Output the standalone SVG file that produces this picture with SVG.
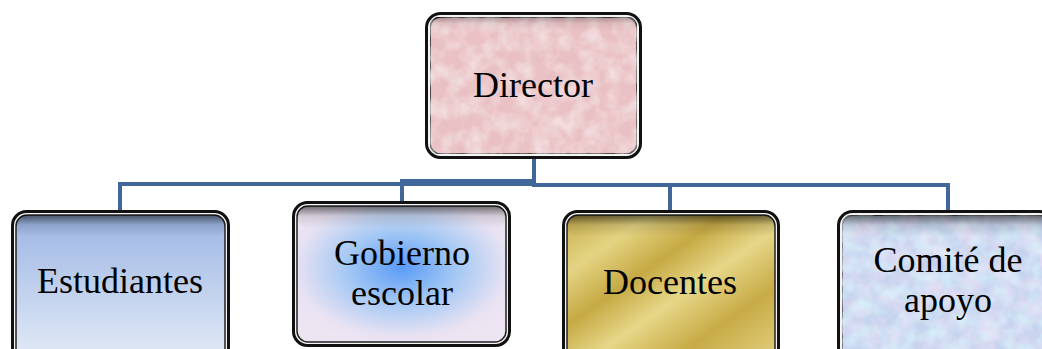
<svg xmlns="http://www.w3.org/2000/svg" width="1042" height="349" viewBox="0 0 1042 349">
<style>
.outer{fill:#f4f4f4;stroke:#111;stroke-width:3}
.inner{stroke:#222;stroke-width:1.5}
.shade{fill:url(#topShade)}
.lbl{font-family:"Liberation Serif","DejaVu Serif",serif;font-size:36px;fill:#000;text-anchor:middle}
.conn{fill:none;stroke:#41679a;stroke-width:4;stroke-linejoin:miter}
</style>
<defs>
<linearGradient id="topShade" x1="0" y1="0" x2="0" y2="1">
<stop offset="0" stop-color="#000" stop-opacity="0.55"/>
<stop offset="0.45" stop-color="#000" stop-opacity="0.12"/>
<stop offset="1" stop-color="#000" stop-opacity="0"/>
</linearGradient>
<linearGradient id="gEst" x1="0" y1="0" x2="0" y2="1">
<stop offset="0" stop-color="#9db6e4"/>
<stop offset="1" stop-color="#e2eaf6"/>
</linearGradient>
<radialGradient id="gGob" cx="0.5" cy="0.45" r="0.6">
<stop offset="0" stop-color="#5a9bf6"/>
<stop offset="0.45" stop-color="#a6c9f4"/>
<stop offset="0.85" stop-color="#e8e2f3"/>
<stop offset="1" stop-color="#eee5f2"/>
</radialGradient>
<linearGradient id="gDoc" x1="0" y1="0" x2="1" y2="1">
<stop offset="0" stop-color="#c9ae4d"/>
<stop offset="0.2" stop-color="#e4d483"/>
<stop offset="0.38" stop-color="#c6a944"/>
<stop offset="0.55" stop-color="#e6d788"/>
<stop offset="0.75" stop-color="#c8ab47"/>
<stop offset="1" stop-color="#e2d07e"/>
</linearGradient>
<filter id="pinkTex" x="0" y="0" width="1" height="1">
<feTurbulence type="fractalNoise" baseFrequency="0.06" numOctaves="3" seed="4" result="n"/>
<feColorMatrix in="n" type="matrix" values="0 0 0 0 1  0 0 0 0 1  0 0 0 0 1  0.9 0 0 0 -0.3" result="w"/>
<feComposite in="w" in2="SourceAlpha" operator="in" result="wc"/>
<feMerge><feMergeNode in="SourceGraphic"/><feMergeNode in="wc"/></feMerge>
</filter>
<filter id="pastelTex" x="0" y="0" width="1" height="1">
<feTurbulence type="fractalNoise" baseFrequency="0.05" numOctaves="3" seed="7" result="n"/>
<feColorMatrix in="n" type="matrix" values="0 0 0 0 0.92  0 0 0 0 0.78  0 0 0 0 0.95  1.4 0 0 0 -0.5" result="p"/>
<feTurbulence type="fractalNoise" baseFrequency="0.07" numOctaves="2" seed="11" result="n2"/>
<feColorMatrix in="n2" type="matrix" values="0 0 0 0 0.70  0 0 0 0 0.92  0 0 0 0 0.98  1.4 0 0 0 -0.5" result="c"/>
<feMerge result="m"><feMergeNode in="p"/><feMergeNode in="c"/></feMerge>
<feComposite in="m" in2="SourceAlpha" operator="in" result="mc"/>
<feMerge><feMergeNode in="SourceGraphic"/><feMergeNode in="mc"/></feMerge>
</filter>
</defs>

<g id="connectors">
<path class="conn" d="M534,158 V184 H120 V212"/>
<path class="conn" d="M534,158 V181 H402 V203"/>
<path class="conn" d="M534,158 V185 H670 V211"/>
<path class="conn" d="M534,158 V185 H948 V212"/>
</g>

<g id="director">
<rect class="outer" x="426.5" y="13.5" width="214" height="144" rx="14"/>
<rect class="inner" x="430" y="17" width="207" height="137" rx="11" fill="#e9c0c3" filter="url(#pinkTex)"/>
<rect class="shade" x="430" y="17" width="207" height="14" rx="8" opacity="0.5"/>
<text class="lbl" x="533" y="97">Director</text>
</g>

<g id="estudiantes">
<rect class="outer" x="12.5" y="211.5" width="216" height="150" rx="14"/>
<rect class="inner" x="16" y="215" width="209" height="145" rx="11" fill="url(#gEst)"/>
<rect class="shade" x="16" y="215" width="209" height="22" rx="10"/>
<text class="lbl" x="120" y="293">Estudiantes</text>
</g>

<g id="gobierno">
<rect class="outer" x="293.5" y="202.5" width="216" height="143" rx="14"/>
<rect class="inner" x="297" y="206" width="209" height="136" rx="11" fill="url(#gGob)"/>
<rect class="shade" x="297" y="206" width="209" height="22" rx="10"/>
<text class="lbl" x="402" y="265">Gobierno</text>
<text class="lbl" x="402" y="305">escolar</text>
</g>

<g id="docentes">
<rect class="outer" x="563.5" y="211.5" width="215" height="150" rx="14"/>
<rect class="inner" x="567" y="215" width="208" height="145" rx="11" fill="url(#gDoc)"/>
<rect class="shade" x="567" y="215" width="208" height="22" rx="10"/>
<text class="lbl" x="670" y="294">Docentes</text>
</g>

<g id="comite">
<rect class="outer" x="838.5" y="211.5" width="215" height="150" rx="14"/>
<rect class="inner" x="842" y="215" width="208" height="145" rx="11" fill="#c6d3ee" filter="url(#pastelTex)"/>
<rect class="shade" x="842" y="215" width="208" height="22" rx="10"/>
<text class="lbl" x="948" y="272">Comité de</text>
<text class="lbl" x="948" y="312">apoyo</text>
</g>
</svg>
